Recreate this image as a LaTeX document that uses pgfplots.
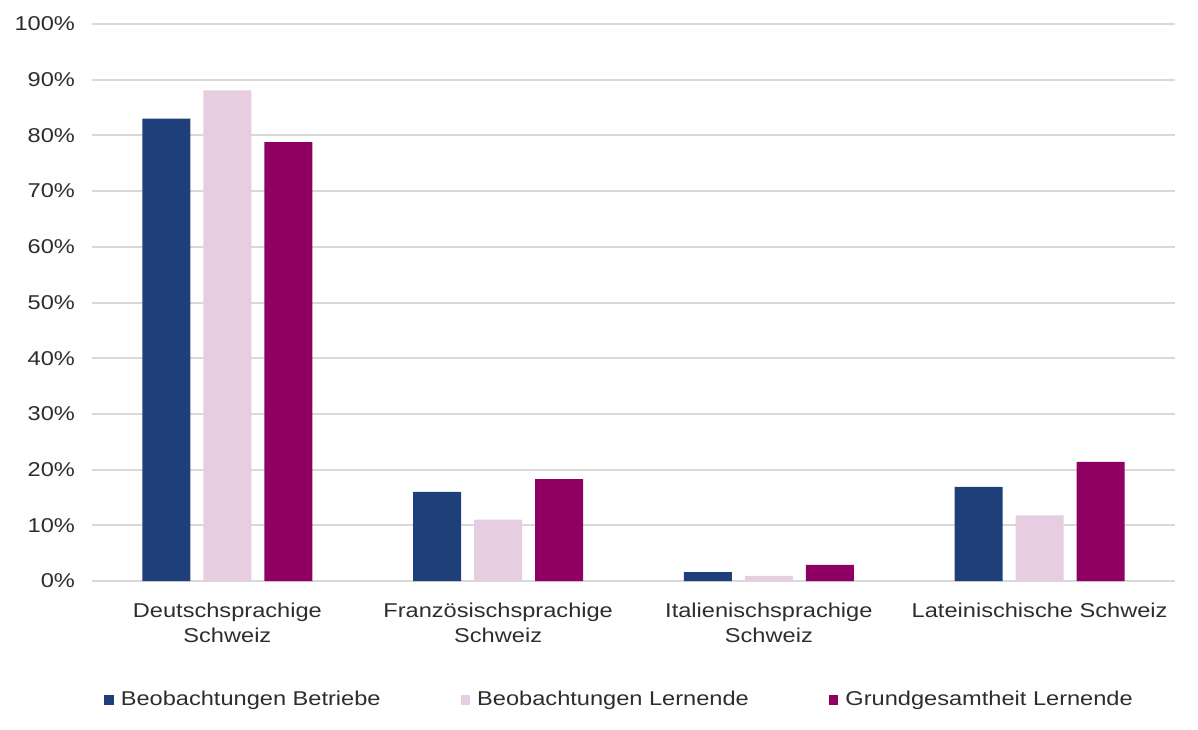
\documentclass[border=0pt]{standalone}
\usepackage{pgfplots}
\pgfplotsset{compat=1.18}
\usepackage{fontspec}
\setmainfont{Liberation Sans}[FakeStretch=1.18]
\definecolor{cNavy}{RGB}{31,63,123}
\definecolor{cPink}{RGB}{231,205,225}
\definecolor{cMag}{RGB}{143,0,98}
\definecolor{cGrid}{RGB}{217,217,217}
\definecolor{cText}{RGB}{45,45,45}
\begin{document}
\fontsize{10pt}{12pt}\selectfont
\begin{tikzpicture}
\begin{axis}[
  name=ax,
  scale only axis,
  width=541.5pt, height=278.5pt,
  ymin=0, ymax=100,
  xmin=-0.5, xmax=3.5,
  ybar=6.5pt, bar width=24pt,
  axis line style={draw=none},
  ytick={0,10,...,100},
  yticklabels={0\%,10\%,20\%,30\%,40\%,50\%,60\%,70\%,80\%,90\%,100\%},
  xtick={0,1,2,3},
  xticklabels={Deutschsprachige\\Schweiz,Französischsprachige\\Schweiz,Italienischsprachige\\Schweiz,Lateinischische Schweiz},
  xticklabel style={align=center, text=cText, font=\fontsize{10pt}{12.5pt}\selectfont, yshift=-7.5pt},
  yticklabel style={text=cText, font=\fontsize{10pt}{12pt}\selectfont, xshift=-5pt},
  major tick length=0pt,
  ymajorgrids, major grid style={cGrid, line width=1pt},
  legend columns=3,
  legend style={at={(0.488,-0.2136)}, anchor=center, draw=none, fill=none,
    font=\fontsize{10pt}{12pt}\selectfont, text=cText,
    /tikz/every even column/.append style={column sep=38pt}},
  legend image code/.code={\fill[#1] (0pt,-2.4pt) rectangle (4.8pt,2.4pt);},
]
\addplot[fill=cNavy, draw=none] coordinates {(0,83) (1,16) (2,1.6) (3,16.9)};
\addplot[fill=cPink, draw=none] coordinates {(0,88.1) (1,11) (2,0.9) (3,11.8)};
\addplot[fill=cMag, draw=none] coordinates {(0,78.8) (1,18.3) (2,2.9) (3,21.4)};
\legend{\hspace{1.5pt}Beobachtungen Betriebe,\hspace{1.5pt}Beobachtungen Lernende,\hspace{1.5pt}Grundgesamtheit Lernende}
\end{axis}
\path ([shift={(-46pt,-74pt)}]ax.south west) rectangle ([shift={(11.5pt,12pt)}]ax.north east);
\end{tikzpicture}
\end{document}
